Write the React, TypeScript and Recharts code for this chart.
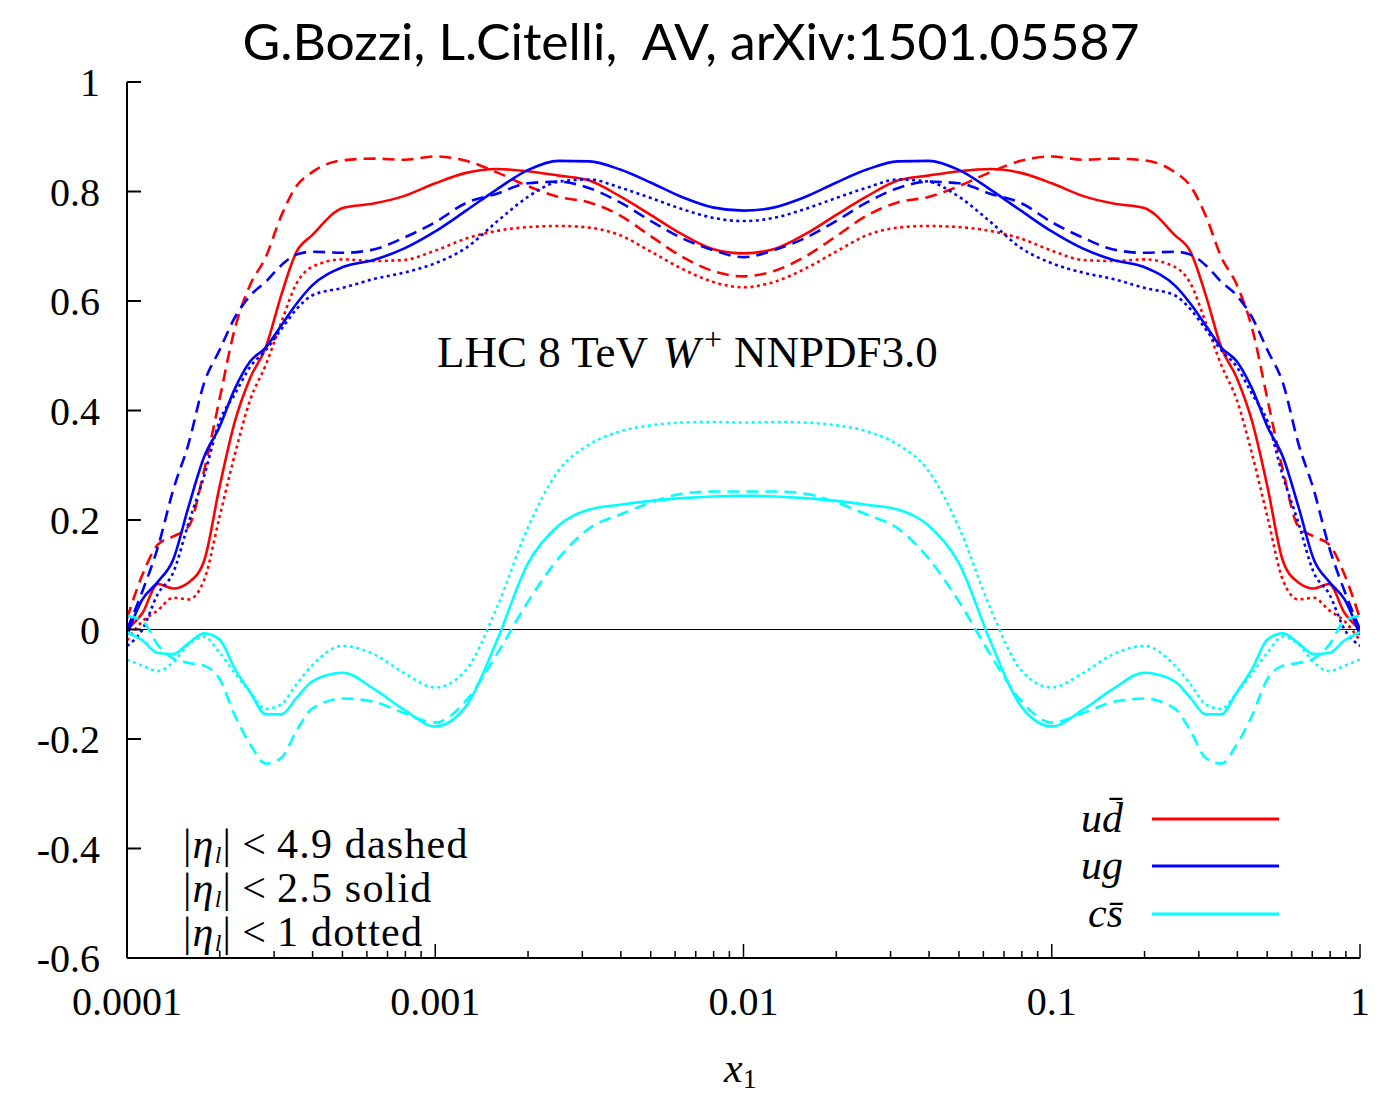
import React from 'react';
import { LineChart, Line, XAxis, YAxis, ReferenceLine } from 'recharts';

// log10(x1) sampling points
const LOG_X = [
  -4, -3.95, -3.9, -3.85, -3.8, -3.75, -3.7, -3.65, -3.6, -3.55, -3.5, -3.45, -3.4,
  -3.3, -3.2, -3.1, -3.0, -2.9, -2.8, -2.7, -2.6, -2.5, -2.4, -2.3, -2.2, -2.1, -2.0,
  -1.9, -1.8, -1.7, -1.6, -1.5, -1.4, -1.3, -1.2, -1.1, -1.0, -0.9, -0.8, -0.7,
  -0.6, -0.55, -0.5, -0.45, -0.4, -0.35, -0.3, -0.25, -0.2, -0.15, -0.1, -0.05, 0,
];

// u dbar
const UD_DASHED = [
  0.02, 0.1, 0.155, 0.17, 0.188, 0.29, 0.42, 0.55, 0.63, 0.68, 0.755, 0.81, 0.835,
  0.857, 0.86, 0.858, 0.864, 0.856, 0.835, 0.81, 0.79, 0.78, 0.756, 0.718, 0.681, 0.655, 0.645,
  0.655, 0.681, 0.718, 0.756, 0.78, 0.79, 0.81, 0.835, 0.856, 0.864, 0.858, 0.86, 0.857,
  0.835, 0.81, 0.755, 0.68, 0.63, 0.55, 0.42, 0.29, 0.188, 0.17, 0.155, 0.1, 0.02,
];
const UD_SOLID = [
  0.0, 0.03, 0.083, 0.075, 0.086, 0.125, 0.26, 0.38, 0.46, 0.515, 0.61, 0.69, 0.72,
  0.77, 0.778, 0.792, 0.815, 0.834, 0.841, 0.837, 0.829, 0.82, 0.791, 0.757, 0.722, 0.695, 0.687,
  0.695, 0.722, 0.757, 0.791, 0.82, 0.829, 0.837, 0.841, 0.834, 0.815, 0.792, 0.778, 0.77,
  0.72, 0.69, 0.61, 0.515, 0.46, 0.38, 0.26, 0.125, 0.086, 0.075, 0.083, 0.03, 0.0,
];
const UD_DOTTED = [
  -0.02, 0.015, 0.035, 0.058, 0.055, 0.09, 0.205, 0.32, 0.42, 0.483, 0.56, 0.632, 0.662,
  0.676, 0.673, 0.675, 0.692, 0.714, 0.728, 0.735, 0.737, 0.734, 0.72, 0.69, 0.659, 0.635, 0.625,
  0.635, 0.659, 0.69, 0.72, 0.734, 0.737, 0.735, 0.728, 0.714, 0.692, 0.675, 0.673, 0.676,
  0.662, 0.632, 0.56, 0.483, 0.42, 0.32, 0.205, 0.09, 0.055, 0.058, 0.035, 0.015, -0.02,
];

// u g
const UG_DASHED = [
  0.0, 0.07, 0.15, 0.255, 0.34, 0.45, 0.51, 0.57, 0.61, 0.635, 0.665, 0.685, 0.69,
  0.688, 0.694, 0.716, 0.744, 0.779, 0.796, 0.815, 0.818, 0.806, 0.78, 0.746, 0.715, 0.693, 0.68,
  0.693, 0.715, 0.746, 0.78, 0.806, 0.818, 0.815, 0.796, 0.779, 0.744, 0.716, 0.694, 0.688,
  0.69, 0.685, 0.665, 0.635, 0.61, 0.57, 0.51, 0.45, 0.34, 0.255, 0.15, 0.07, 0.0,
];
const UG_SOLID = [
  -0.01, 0.055, 0.087, 0.128, 0.225, 0.315, 0.37, 0.44, 0.49, 0.515, 0.555, 0.595, 0.628,
  0.662, 0.675, 0.696, 0.727, 0.765, 0.804, 0.839, 0.856, 0.855, 0.84, 0.816, 0.79, 0.771, 0.765,
  0.771, 0.79, 0.816, 0.84, 0.855, 0.856, 0.839, 0.804, 0.765, 0.727, 0.696, 0.675, 0.662,
  0.628, 0.595, 0.555, 0.515, 0.49, 0.44, 0.37, 0.315, 0.225, 0.128, 0.087, 0.055, -0.01,
];
const UG_DOTTED = [
  -0.03, 0.0, 0.065, 0.104, 0.195, 0.28, 0.38, 0.43, 0.48, 0.51, 0.548, 0.585, 0.61,
  0.624, 0.64, 0.652, 0.669, 0.697, 0.745, 0.79, 0.818, 0.822, 0.807, 0.788, 0.768, 0.752, 0.746,
  0.752, 0.768, 0.788, 0.807, 0.822, 0.818, 0.79, 0.745, 0.697, 0.669, 0.652, 0.64, 0.624,
  0.61, 0.585, 0.548, 0.51, 0.48, 0.43, 0.38, 0.28, 0.195, 0.104, 0.065, 0.0, -0.03,
];

// c sbar
const CS_DASHED = [
  0.025, 0.016, -0.028, -0.053, -0.061, -0.066, -0.09, -0.157, -0.21, -0.245, -0.235, -0.185, -0.145,
  -0.126, -0.132, -0.153, -0.17, -0.13, -0.045, 0.05, 0.13, 0.185, 0.21, 0.232, 0.248, 0.252, 0.252,
  0.252, 0.248, 0.232, 0.21, 0.185, 0.13, 0.05, -0.045, -0.13, -0.17, -0.153, -0.132, -0.126,
  -0.145, -0.185, -0.235, -0.245, -0.21, -0.157, -0.09, -0.066, -0.061, -0.053, -0.028, 0.016, 0.025,
];
const CS_SOLID = [
  -0.005, -0.02, -0.043, -0.045, -0.025, -0.007, -0.018, -0.072, -0.115, -0.155, -0.155, -0.125, -0.095,
  -0.079, -0.108, -0.147, -0.177, -0.14, -0.02, 0.12, 0.19, 0.219, 0.228, 0.235, 0.24, 0.243, 0.244,
  0.243, 0.24, 0.235, 0.228, 0.219, 0.19, 0.12, -0.02, -0.14, -0.177, -0.147, -0.108, -0.079,
  -0.095, -0.125, -0.155, -0.155, -0.115, -0.072, -0.018, -0.007, -0.025, -0.045, -0.043, -0.02, -0.005,
];
const CS_DOTTED = [
  -0.055, -0.066, -0.076, -0.06, -0.027, -0.013, -0.042, -0.08, -0.115, -0.145, -0.137, -0.1, -0.066,
  -0.03, -0.045, -0.08, -0.106, -0.074, 0.04, 0.185, 0.29, 0.338, 0.362, 0.373, 0.378, 0.379, 0.378,
  0.379, 0.378, 0.373, 0.362, 0.338, 0.29, 0.185, 0.04, -0.074, -0.106, -0.08, -0.045, -0.03,
  -0.066, -0.1, -0.137, -0.145, -0.115, -0.08, -0.042, -0.013, -0.027, -0.06, -0.076, -0.066, -0.055,
];

const X_MAJOR = [-4, -3, -2, -1, 0];
const X_LABELS = ['0.0001', '0.001', '0.01', '0.1', '1'];
const Y_TICKS = [-0.6, -0.4, -0.2, 0, 0.2, 0.4, 0.6, 0.8, 1];
const Y_LABELS = ['-0.6', '-0.4', '-0.2', '0', '0.2', '0.4', '0.6', '0.8', '1'];

const RED = '#ff0000';
const BLUE = '#0000ff';
const CYAN = '#00ffff';
const DASH = '12 7';
const DOT = '3 3.5';

const SERIES = [
  { key: 'udDashed', vals: UD_DASHED, color: RED, dash: DASH },
  { key: 'udSolid', vals: UD_SOLID, color: RED, dash: undefined },
  { key: 'udDotted', vals: UD_DOTTED, color: RED, dash: DOT },
  { key: 'ugDashed', vals: UG_DASHED, color: BLUE, dash: DASH },
  { key: 'ugSolid', vals: UG_SOLID, color: BLUE, dash: undefined },
  { key: 'ugDotted', vals: UG_DOTTED, color: BLUE, dash: DOT },
  { key: 'csDashed', vals: CS_DASHED, color: CYAN, dash: DASH },
  { key: 'csSolid', vals: CS_SOLID, color: CYAN, dash: undefined },
  { key: 'csDotted', vals: CS_DOTTED, color: CYAN, dash: DOT },
];

const data = LOG_X.map((lx, i) => {
  const row: Record<string, number> = { lx };
  SERIES.forEach((s) => (row[s.key] = s.vals[i]));
  return row;
});

// major + minor log ticks (2..9 in each decade)
const X_TICKS: number[] = [];
for (let d = -4; d <= 0; d++) {
  X_TICKS.push(d);
  if (d < 0) for (let k = 2; k <= 9; k++) X_TICKS.push(d + Math.log10(k));
}

const SERIF = '"Liberation Serif", "Times New Roman", serif';
const MAJOR = 14;
const MINOR = 7;

const isMajor = (v: number) => Math.abs(v - Math.round(v)) < 1e-6;

const BottomTick = (props: any) => {
  const { x, y, payload } = props;
  const v = payload.value as number;
  const major = isMajor(v);
  const idx = X_MAJOR.indexOf(Math.round(v));
  return (
    <g>
      <line x1={x} x2={x} y1={y} y2={y - (major ? MAJOR : MINOR)} stroke="#000" strokeWidth={1.5} />
      {major && (
        <text x={x} y={y + 57} textAnchor="middle" fontFamily={SERIF} fontSize={40} fill="#000">
          {X_LABELS[idx]}
        </text>
      )}
    </g>
  );
};

const TopTick = (props: any) => {
  const { x, y, payload } = props;
  const major = isMajor(payload.value);
  return <line x1={x} x2={x} y1={y} y2={y + (major ? MAJOR : MINOR)} stroke="#000" strokeWidth={1.5} />;
};

const LeftTick = (props: any) => {
  const { x, y, payload } = props;
  const idx = Y_TICKS.findIndex((t) => Math.abs(t - payload.value) < 1e-6);
  return (
    <g>
      <line x1={x} x2={x + MAJOR} y1={y} y2={y} stroke="#000" strokeWidth={2} />
      <text x={x - 27} y={y} dy="0.35em" textAnchor="end" fontFamily={SERIF} fontSize={40} fill="#000">
        {Y_LABELS[idx]}
      </text>
    </g>
  );
};

const RightTick = (props: any) => {
  const { x, y } = props;
  return <line x1={x} x2={x - MAJOR} y1={y} y2={y} stroke="#000" strokeWidth={2} />;
};

const axisLine = { stroke: '#000', strokeWidth: 2 };

const LEGEND = [
  { label: 'ud\u0304', color: RED, y: 819 },
  { label: 'ug', color: BLUE, y: 866 },
  { label: 'cs\u0304', color: CYAN, y: 914 },
];

const ETA_LINES = [
  { cut: '4.9', style: 'dashed', y: 858 },
  { cut: '2.5', style: 'solid', y: 902 },
  { cut: '1', style: 'dotted', y: 946 },
];

export default function App() {
  return (
    <div style={{ position: 'absolute', left: 0, top: 0, width: 1382, height: 1095, background: '#fff' }}>
      <LineChart width={1382} height={1095} data={data} margin={{ top: 82, right: 22, bottom: 0, left: 0 }}>
        <XAxis
          xAxisId="b"
          dataKey="lx"
          type="number"
          domain={[-4, 0]}
          ticks={X_TICKS}
          interval={0}
          height={137}
          tickLine={false}
          tickSize={0}
          tickMargin={0}
          axisLine={axisLine}
          tick={<BottomTick />}
          allowDataOverflow
        />
        <XAxis
          xAxisId="t"
          orientation="top"
          dataKey="lx"
          type="number"
          domain={[-4, 0]}
          ticks={X_TICKS}
          interval={0}
          height={0}
          tickLine={false}
          tickSize={0}
          tickMargin={0}
          axisLine={axisLine}
          tick={<TopTick />}
          allowDataOverflow
        />
        <YAxis
          yAxisId="l"
          type="number"
          domain={[-0.6, 1]}
          ticks={Y_TICKS}
          interval={0}
          width={127}
          tickLine={false}
          tickSize={0}
          tickMargin={0}
          axisLine={axisLine}
          tick={<LeftTick />}
          allowDataOverflow
        />
        <YAxis
          yAxisId="r"
          orientation="right"
          type="number"
          domain={[-0.6, 1]}
          ticks={Y_TICKS}
          interval={0}
          width={0}
          tickLine={false}
          tickSize={0}
          tickMargin={0}
          axisLine={axisLine}
          tick={<RightTick />}
          allowDataOverflow
        />
        <ReferenceLine xAxisId="b" yAxisId="l" y={0} stroke="#000" strokeWidth={1.2} />
        {SERIES.map((s) => (
          <Line
            key={s.key}
            xAxisId="b"
            yAxisId="l"
            dataKey={s.key}
            type="monotone"
            stroke={s.color}
            strokeWidth={2.6}
            strokeDasharray={s.dash}
            dot={false}
            activeDot={false}
            isAnimationActive={false}
          />
        ))}
      </LineChart>
      <svg
        width={1382}
        height={1095}
        style={{ position: 'absolute', left: 0, top: 0, pointerEvents: 'none' }}
      >
        <text
          x={691}
          y={60}
          textAnchor="middle"
          fontFamily="Lato, 'Open Sans', sans-serif"
          fontSize={50}
          textLength={897}
          lengthAdjust="spacingAndGlyphs"
          fill="#000"
          style={{ whiteSpace: 'pre' }}
        >
          {'G.Bozzi, L.Citelli,  AV, arXiv:1501.05587'}
        </text>
        <text x={437} y={367} fontFamily={SERIF} fontSize={45} fill="#000" style={{ whiteSpace: 'pre' }}>
          {'LHC 8 TeV '}
          <tspan fontStyle="italic" dx={4}>W</tspan>
          <tspan fontSize={32} dx={4} dy={-17}>+</tspan>
          <tspan dx={12} dy={17}>NNPDF3.0</tspan>
        </text>
        {ETA_LINES.map((e) => (
          <text
            key={e.cut}
            x={183}
            y={e.y}
            fontFamily={SERIF}
            fontSize={42}
            letterSpacing={1.2}
            fill="#000"
            style={{ whiteSpace: 'pre' }}
          >
            {'|'}
            <tspan fontStyle="italic">η</tspan>
            <tspan fontStyle="italic" fontSize={24} dy={5}>l</tspan>
            <tspan dy={-5}>{'|'}</tspan>
            <tspan dx={10}>{'<'}</tspan>
            <tspan dx={10}>{`${e.cut} ${e.style}`}</tspan>
          </text>
        ))}
        {LEGEND.map((l) => (
          <g key={l.label}>
            <text
              x={1123}
              y={l.y}
              dy="0.32em"
              textAnchor="end"
              fontFamily={SERIF}
              fontStyle="italic"
              fontSize={42}
              fill="#000"
            >
              {l.label}
            </text>
            <line x1={1152} x2={1279} y1={l.y} y2={l.y} stroke={l.color} strokeWidth={3} />
          </g>
        ))}
        <text x={724} y={1082} fontFamily={SERIF} fontSize={42} fontStyle="italic" fill="#000">
          x<tspan fontStyle="normal" fontSize={28} dy={6}>1</tspan>
        </text>
      </svg>
    </div>
  );
}
